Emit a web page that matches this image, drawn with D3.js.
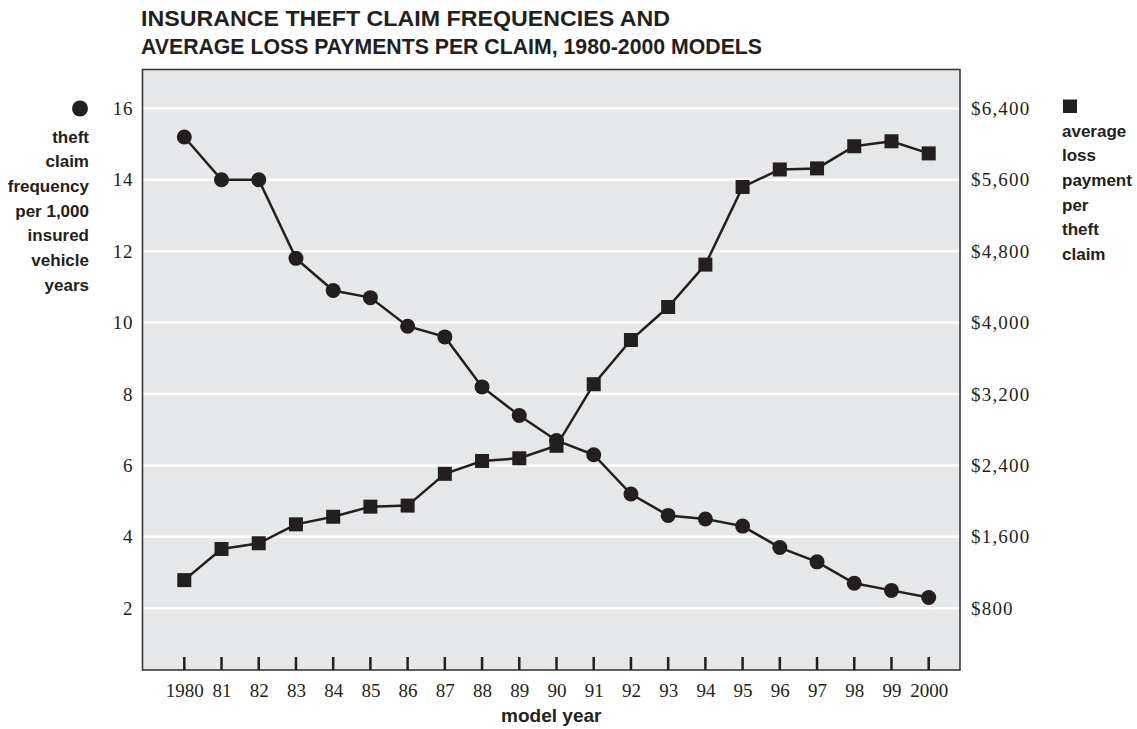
<!DOCTYPE html>
<html>
<head>
<meta charset="utf-8">
<script src="https://cdn.jsdelivr.net/npm/d3@7"></script>
<style>
  html, body { margin: 0; padding: 0; background: #ffffff; }
  svg { display: block; }
  .serif { font-family: "Liberation Serif", "DejaVu Serif", serif; fill: #231f20; }
  .sansb { font-family: "Liberation Sans", Arial, sans-serif; font-weight: bold; fill: #231f20; }
</style>
</head>
<body>
<svg id="chart" width="1137" height="729"></svg>
<script>
// ---- data ----
const years = [1980, 1981, 1982, 1983, 1984, 1985, 1986, 1987, 1988, 1989, 1990,
               1991, 1992, 1993, 1994, 1995, 1996, 1997, 1998, 1999, 2000];
const yearLabels = ["1980", "81", "82", "83", "84", "85", "86", "87", "88", "89", "90",
                    "91", "92", "93", "94", "95", "96", "97", "98", "99", "2000"];
// theft claim frequency per 1,000 insured vehicle years
const claimFrequency = [15.2, 14.0, 14.0, 11.8, 10.9, 10.7, 9.9, 9.6, 8.2, 7.4, 6.7,
                        6.3, 5.2, 4.6, 4.5, 4.3, 3.7, 3.3, 2.7, 2.5, 2.3];
// average loss payment per theft claim ($)
const avgLossPayment = [1115, 1464, 1528, 1740, 1825, 1938, 1950, 2306, 2450, 2480, 2620,
                        3310, 3805, 4175, 4650, 5520, 5716, 5728, 5976, 6032, 5896];
const leftTicks = [2, 4, 6, 8, 10, 12, 14, 16];
const rightTicks = [800, 1600, 2400, 3200, 4000, 4800, 5600, 6400];
const titleLines = ["INSURANCE THEFT CLAIM FREQUENCIES AND",
                    "AVERAGE LOSS PAYMENTS PER CLAIM, 1980-2000 MODELS"];
const leftLegend = ["theft", "claim", "frequency", "per 1,000", "insured", "vehicle", "years"];
const rightLegend = ["average", "loss", "payment", "per", "theft", "claim"];
const xAxisTitle = "model year";

// ---- layout ----
const plot = { left: 142.5, right: 960, top: 69.5, bottom: 670 };
const ink = "#231f20";
const titleWidths = [529, 621];

const svg = d3.select("#chart");

const x = d3.scaleLinear().domain([1980, 2000]).range([184.3, 928.7]);
const yL = d3.scaleLinear().domain([0.27, 17.09]).range([plot.bottom, plot.top]);
const yR = d3.scaleLinear().domain([0.27 * 400, 17.09 * 400]).range([plot.bottom, plot.top]);

// title
svg.append("g").selectAll("text").data(titleLines).join("text")
  .attr("class", "sansb")
  .attr("x", 141)
  .attr("y", (d, i) => 26 + i * 28)
  .attr("font-size", 22.8)
  .attr("textLength", (d, i) => titleWidths[i])
  .attr("lengthAdjust", "spacingAndGlyphs")
  .text(d => d);

// plot background
svg.append("rect")
  .attr("x", plot.left).attr("y", plot.top)
  .attr("width", plot.right - plot.left).attr("height", plot.bottom - plot.top)
  .attr("fill", "#e6e7e8");

// gridlines
svg.append("g").selectAll("line").data(leftTicks).join("line")
  .attr("x1", plot.left).attr("x2", plot.right)
  .attr("y1", d => yL(d)).attr("y2", d => yL(d))
  .attr("stroke", "#ffffff").attr("stroke-width", 2.5);

// frame
svg.append("rect")
  .attr("x", plot.left).attr("y", plot.top)
  .attr("width", plot.right - plot.left).attr("height", plot.bottom - plot.top)
  .attr("fill", "none").attr("stroke", "#3a3a3a").attr("stroke-width", 1.6);

// left axis labels
const leftAxis = d3.axisLeft(yL).tickValues(leftTicks).tickSize(0).tickPadding(0).tickFormat(d3.format("d"));
const gL = svg.append("g").attr("transform", `translate(133,0)`).call(leftAxis);
gL.select(".domain").remove();
gL.selectAll("text").attr("class", "serif").attr("font-size", 19).attr("fill", ink)
  .attr("font-family", null).attr("letter-spacing", 0.6);

// right axis labels
const rightAxis = d3.axisRight(yR).tickValues(rightTicks).tickSize(0).tickPadding(0)
  .tickFormat(d => "$" + d3.format(",")(d));
const gR = svg.append("g").attr("transform", `translate(971,0)`).call(rightAxis);
gR.select(".domain").remove();
gR.selectAll("text").attr("class", "serif").attr("font-size", 19).attr("fill", ink)
  .attr("font-family", null).attr("letter-spacing", 1.2);

// bottom axis: inward ticks and labels
const bottomAxis = d3.axisBottom(x).tickValues(years).tickSize(0).tickPadding(0)
  .tickFormat((d, i) => yearLabels[i]);
const gB = svg.append("g").attr("transform", `translate(0,${plot.bottom})`).call(bottomAxis);
gB.select(".domain").remove();
gB.selectAll(".tick text").attr("class", "serif").attr("font-size", 19).attr("fill", ink)
  .attr("font-family", null).attr("dy", null).attr("y", 27);
svg.append("g").selectAll("line").data(years).join("line")
  .attr("x1", d => x(d)).attr("x2", d => x(d))
  .attr("y1", plot.bottom - 13).attr("y2", plot.bottom)
  .attr("stroke", ink).attr("stroke-width", 2.5);

// x axis title
svg.append("text").attr("class", "sansb")
  .attr("x", (plot.left + plot.right) / 2).attr("y", 722)
  .attr("text-anchor", "middle").attr("font-size", 19)
  .text(xAxisTitle);

// lines
const lineL = d3.line().x((d, i) => x(years[i])).y(d => yL(d));
const lineR = d3.line().x((d, i) => x(years[i])).y(d => yR(d));

svg.append("path").datum(avgLossPayment).attr("d", lineR)
  .attr("fill", "none").attr("stroke", ink).attr("stroke-width", 2.5);
svg.append("path").datum(claimFrequency).attr("d", lineL)
  .attr("fill", "none").attr("stroke", ink).attr("stroke-width", 2.5);

// markers
const sq = 14;
svg.append("g").selectAll("rect").data(avgLossPayment).join("rect")
  .attr("x", (d, i) => x(years[i]) - sq / 2)
  .attr("y", d => yR(d) - sq / 2)
  .attr("width", sq).attr("height", sq)
  .attr("fill", ink);
svg.append("g").selectAll("circle").data(claimFrequency).join("circle")
  .attr("cx", (d, i) => x(years[i]))
  .attr("cy", d => yL(d))
  .attr("r", 7.5)
  .attr("fill", ink);

// left legend
svg.append("circle").attr("cx", 80).attr("cy", 108.5).attr("r", 8).attr("fill", ink);
svg.append("g").selectAll("text").data(leftLegend).join("text")
  .attr("class", "sansb")
  .attr("x", 89).attr("y", (d, i) => 142.5 + i * 24.7)
  .attr("text-anchor", "end").attr("font-size", 17)
  .text(d => d);

// right legend
svg.append("rect").attr("x", 1063).attr("y", 99.5).attr("width", 14).attr("height", 13.5).attr("fill", ink);
svg.append("g").selectAll("text").data(rightLegend).join("text")
  .attr("class", "sansb")
  .attr("x", 1062).attr("y", (d, i) => 136.5 + i * 24.7)
  .attr("font-size", 17)
  .text(d => d);
</script>
</body>
</html>
